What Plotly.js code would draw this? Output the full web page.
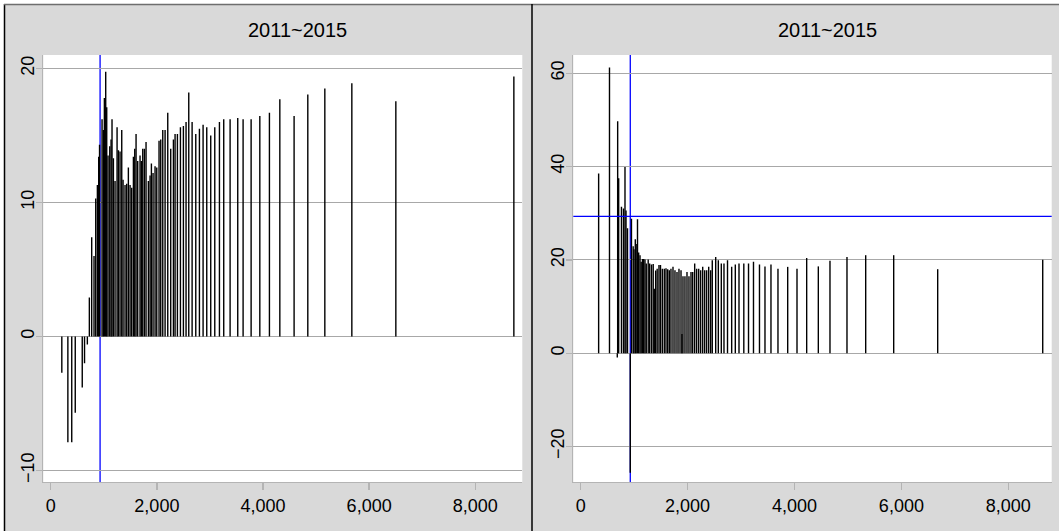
<!DOCTYPE html>
<html><head><meta charset="utf-8">
<script src="https://cdn.plot.ly/plotly-3.0.1.min.js"></script>
<style>html,body{margin:0;padding:0;background:#fff}</style>
</head><body><div id="chart" style="width:1059px;height:531px"></div>
<script>
// Left panel (2011~2015)
const leftX = [209,323,396,462,594,637,690,728,772,816,
  848,879,904,920,967,992,1011,1036,1055,1080,
  1112,1137,1155,1181,1212,1250,1275,1306,1338,1363,
  1400,1432,1463,1495,1526,1558,1583,1608,1639,1683,
  1708,1734,1765,1796,1840,1872,1897,1928,1966,1998,
  2041,2073,2111,2155,2205,2261,2312,2343,2387,2444,
  2500,2550,2601,2664,2733,2802,2871,2940,3015,3091,
  3179,3260,3380,3524,3625,3776,3940,4121,4317,4586,
  4844,5165,5674,6503,8727];
const leftY = [-2.7,-7.9,-7.9,-5.7,-3.8,-2.0,-0.6,2.9,7.4,6.0,
  10.3,11.3,13.4,14.3,16.2,15.4,17.8,19.75,17.1,13.5,
  14.2,14.7,16.2,13.3,11.6,15.6,13.9,13.8,15.4,11.7,
  11.3,11.4,12.6,11.3,11.1,13.4,14.0,15.1,13.1,13.5,
  13.1,14.0,14.0,14.5,11.6,12.0,12.9,12.2,12.7,12.6,
  14.6,14.7,15.4,15.4,16.7,14.0,14.7,15.1,15.1,15.6,
  15.7,16.0,18.2,16.0,15.1,15.5,15.8,15.6,15.0,15.6,
  16.0,16.2,16.2,16.3,16.2,16.2,16.45,16.7,17.7,16.45,
  18.05,18.5,18.9,17.55,19.4];
const leftVLine = 930;

// Right panel (2011~2015)
const rightX = [336,539,685,692,711,763,801,829,848,876,
  928,950,982,997,1022,1038,1063,1085,1110,1132,
  1156,1179,1203,1227,1263,1291,1325,1357,1377,1403,
  1431,1465,1493,1527,1564,1596,1628,1658,1689,1727,
  1764,1802,1839,1877,1895,1914,1951,1989,2026,2064,
  2096,2133,2170,2208,2245,2283,2320,2357,2395,2432,
  2462,2526,2575,2631,2681,2747,2825,2893,2962,3052,
  3140,3233,3345,3448,3560,3691,3873,4047,4228,4446,
  4664,4982,5332,5856,6679,8644];
const rightY = [38.5,61.2,-0.9,49.7,37.5,31.4,31.0,39.9,30.6,26.8,
  -25.6,28.8,22.9,22.3,24.4,23.4,28.7,21.6,21.0,19.6,
  20.2,20.2,20.1,19.2,20.1,19.2,19.0,19.1,13.8,17.7,
  18.1,18.9,18.9,18.1,18.1,18.2,18.0,17.8,18.1,18.5,
  17.8,17.4,18.1,17.8,4.1,16.5,16.5,17.4,16.5,17.4,
  17.4,19.2,18.1,18.1,17.8,18.5,17.8,17.8,18.5,17.8,
  19.9,20.6,19.9,19.2,19.2,19.9,18.5,19.0,19.2,19.2,
  19.2,19.6,19.0,18.6,19.0,18.1,18.5,18.1,20.4,18.6,
  19.8,20.6,21.0,21.0,18.0,20.0];
const rightVLine = 928;
const rightHLine = 29.3;

const panelTitles = ["2011~2015", "2011~2015"];
const xTicks = [0, 2000, 4000, 6000, 8000];
const leftYTicks = [-10, 0, 10, 20];
const rightYTicks = [-20, 0, 20, 40, 60];

function spikes(xs, ys) {
  const sx = [], sy = [];
  xs.forEach((x, i) => { sx.push(x, x, null); sy.push(0, ys[i], null); });
  return {sx, sy};
}
const L = spikes(leftX, leftY), R = spikes(rightX, rightY);

const W = 1059, H = 531;
const FONT = "Liberation Sans, Arial, sans-serif";
const spikeLine = {color: "#000000", width: 1.4};

const traces = [
  {type: "scatter", mode: "lines", x: L.sx, y: L.sy, xaxis: "x", yaxis: "y", line: spikeLine, connectgaps: false, hoverinfo: "skip"},
  {type: "scatter", mode: "lines", x: R.sx, y: R.sy, xaxis: "x2", yaxis: "y2", line: spikeLine, connectgaps: false, hoverinfo: "skip"}
];

const yDom = [(H - 482) / H, (H - 55) / H];
function xAxis(dom, range, anchor) {
  return {domain: dom, range: range, anchor: anchor, showgrid: false, zeroline: false,
    showline: true, linecolor: "#b4b4b4", linewidth: 1.3, ticks: "outside", ticklen: 7,
    tickcolor: "#b4b4b4", tickwidth: 1.3, tickvals: xTicks, tickformat: ",",
    tickfont: {family: FONT, size: 18, color: "#000"}, fixedrange: true};
}
function yAxis(range, ticks, anchor) {
  return {domain: yDom, range: range, anchor: anchor, showgrid: true, gridcolor: "#a8a8a8",
    gridwidth: 1.2, zeroline: false, showline: true, linecolor: "#b4b4b4", linewidth: 1.3,
    ticks: "outside", ticklen: 6, tickcolor: "#b4b4b4", tickwidth: 1.3, tickvals: ticks,
    tickangle: -90, ticklabelstandoff: -5,
    tickfont: {family: FONT, size: 18, color: "#000"}, fixedrange: true};
}

const layout = {
  width: W, height: H, margin: {l: 0, r: 0, t: 0, b: 0},
  paper_bgcolor: "#d9d9d9", plot_bgcolor: "#ffffff", showlegend: false, hovermode: false,
  font: {family: FONT, color: "#000"},
  xaxis: xAxis([43.3 / W, 522.3 / W], [-140, 8886], "y"),
  yaxis: yAxis([-10.86, 21.0], leftYTicks, "x"),
  xaxis2: xAxis([573.3 / W, 1051.7 / W], [-138, 8812], "y2"),
  yaxis2: yAxis([-27.6, 63.9], rightYTicks, "x2"),
  annotations: [
    {text: panelTitles[0], xref: "paper", yref: "paper", x: 297.5 / W, y: 1 - 30 / H,
     xanchor: "center", yanchor: "middle", showarrow: false, font: {family: FONT, size: 20, color: "#000"}},
    {text: panelTitles[1], xref: "paper", yref: "paper", x: 827.5 / W, y: 1 - 30 / H,
     xanchor: "center", yanchor: "middle", showarrow: false, font: {family: FONT, size: 20, color: "#000"}}
  ],
  shapes: [
    {type: "rect", xref: "paper", yref: "paper", x0: 0, x1: 4 / W, y0: 0, y1: 1, fillcolor: "#fff", line: {width: 0}, layer: "below"},
    {type: "rect", xref: "paper", yref: "paper", x0: 0, x1: 1, y0: 1 - 4 / H, y1: 1, fillcolor: "#fff", line: {width: 0}, layer: "below"},
    {type: "line", xref: "paper", yref: "paper", x0: 4.5 / W, x1: 4.5 / W, y0: 0, y1: 1 - 4 / H, line: {color: "#000", width: 1.5}},
    {type: "line", xref: "paper", yref: "paper", x0: 4 / W, x1: 1, y0: 1 - 4.5 / H, y1: 1 - 4.5 / H, line: {color: "#6e6e6e", width: 1.5}},
    {type: "line", xref: "paper", yref: "paper", x0: 532 / W, x1: 532 / W, y0: 0, y1: 1 - 4 / H, line: {color: "#000", width: 1.5}},
    {type: "line", xref: "x", yref: "y domain", x0: leftVLine, x1: leftVLine, y0: 0, y1: 1, line: {color: "#0000ff", width: 1.3}, layer: "below"},
    {type: "line", xref: "x2", yref: "y2 domain", x0: rightVLine, x1: rightVLine, y0: 0, y1: 1, line: {color: "#0000ff", width: 1.3}, layer: "below"},
    {type: "line", xref: "x2 domain", yref: "y2", x0: 0, x1: 1, y0: rightHLine, y1: rightHLine, line: {color: "#0000ff", width: 1.3}, layer: "above"}
  ]
};

Plotly.newPlot("chart", traces, layout, {displayModeBar: false, staticPlot: true});
</script>
</body></html>
